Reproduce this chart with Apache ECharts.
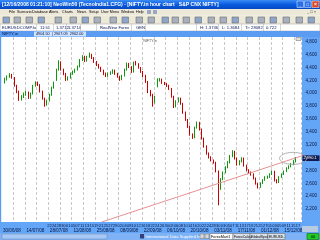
<!DOCTYPE html>
<html><head><meta charset="utf-8">
<script src="https://cdn.jsdelivr.net/npm/echarts@6/dist/echarts.min.js"></script>
<style>html,body{margin:0;padding:0;background:#fff;overflow:hidden}#c{width:320px;height:240px}</style>
</head><body><div id="c"></div>
<script>
// ---- data (NIFTY, Jun-Dec 2008) ----
const opens=[4170,4210,4255,4285,4240,4115,4025,3900,3945,3990,4010,3930,3990,4115,4160,4130,4025,3915,3820,3885,3975,4085,4200,4365,4485,4365,4300,4210,4240,4300,4330,4365,4410,4515,4565,4500,4565,4595,4550,4485,4440,4395,4350,4300,4270,4300,4315,4350,4300,4255,4210,4270,4365,4455,4410,4330,4470,4455,4395,4330,4270,4180,4025,3975,3855,4100,4210,4210,4160,4145,4115,4070,3945,3790,3870,3915,3840,3700,3590,3480,3360,3310,3465,3545,3435,3300,3175,3065,3005,2955,2925,2790,2510,2665,2770,2850,2925,3020,3095,2990,2895,2940,2990,2880,2805,2770,2740,2680,2600,2540,2600,2650,2695,2695,2740,2785,2650,2615,2695,2740,2785,2835,2865,2895,2940];
const closes=[4210,4255,4285,4240,4115,4025,3900,3945,3990,4010,3930,3990,4115,4160,4130,4025,3915,3820,3885,3975,4085,4160,4365,4485,4365,4300,4210,4240,4300,4330,4365,4410,4515,4565,4500,4565,4595,4550,4485,4440,4395,4350,4300,4270,4300,4315,4350,4300,4255,4210,4270,4365,4455,4410,4330,4470,4455,4395,4330,4270,4180,4025,3975,3855,3945,4210,4210,4160,4145,4115,4070,3945,3790,3870,3915,3840,3700,3590,3480,3360,3310,3465,3545,3435,3300,3175,3065,3005,2955,2925,2790,2510,2665,2770,2850,2925,3020,3095,2990,2895,2940,2990,2880,2805,2770,2740,2680,2600,2540,2600,2650,2695,2695,2740,2785,2650,2615,2695,2740,2785,2835,2865,2895,2940,2990];
const lows=[4150,4195,4240,4225,4100,4000,3880,3885,3925,3960,3910,3915,3980,4100,4110,4010,3900,3790,3805,3870,3960,4070,4190,4350,4350,4280,4190,4195,4225,4285,4315,4350,4400,4500,4485,4490,4550,4530,4470,4420,4380,4330,4280,4250,4255,4285,4300,4285,4240,4190,4200,4260,4350,4390,4315,4320,4430,4380,4315,4250,4160,4000,3950,3790,3840,4090,4180,4145,4125,4095,4050,3930,3770,3780,3855,3820,3680,3570,3460,3340,3290,3300,3450,3420,3280,3155,3045,2985,2940,2905,2770,2260,2500,2650,2755,2835,2910,3005,2970,2875,2880,2925,2860,2785,2750,2720,2660,2580,2520,2530,2590,2640,2670,2685,2730,2630,2600,2605,2685,2730,2775,2820,2850,2880,2925];
const highs=[4240,4275,4310,4300,4250,4130,4040,3970,4010,4040,4025,4010,4130,4185,4180,4140,4040,3930,3900,3990,4100,4180,4380,4510,4495,4380,4315,4260,4320,4350,4380,4430,4530,4590,4580,4580,4630,4610,4560,4500,4455,4410,4365,4320,4320,4340,4370,4365,4315,4270,4285,4380,4475,4470,4420,4490,4500,4465,4405,4345,4285,4190,4050,3990,3960,4230,4235,4225,4175,4160,4130,4080,3960,3890,3935,3930,3850,3715,3600,3495,3375,3480,3560,3555,3450,3310,3190,3080,3020,2970,2935,2800,2680,2785,2865,2945,3040,3115,3105,3000,2960,3005,3000,2890,2820,2785,2755,2690,2610,2615,2665,2710,2720,2755,2800,2795,2665,2710,2755,2800,2850,2880,2915,2960,3010];
const dateLabels=['30/06/08','14/07/08','28/07/08','11/08/08','25/08/08','08/09/08','22/09/08','06/10/08','20/10/08','03/11/08','17/11/08','01/12/08','15/12/08'];
const trendIdx=[41.3,128.6];
const trendVal=[2000,3050];
const lastPrice=2990.10;
const ellipseIdx=122.9, ellipseVal=2988;

// ---- categories: trading weekdays ----
const dates=[]; const dayNums=[];
let d=new Date(Date.UTC(2008,5,25));
while(dates.length<127){const wd=d.getUTCDay();
  if(wd>0&&wd<6){const dd=String(d.getUTCDate()).padStart(2,'0'),mm=String(d.getUTCMonth()+1).padStart(2,'0');
    dates.push(dd+'/'+mm+'/08'); dayNums.push(dd);}
  d=new Date(d.getTime()+86400000);}

const candles=dates.map((_,i)=>i<opens.length?[opens[i],closes[i],lows[i],highs[i]]:'-');
const F='Liberation Sans, Arial, sans-serif';
const chart=echarts.init(document.getElementById('c'),null,{renderer:'canvas'});
const gl=1,gr=18,gt=37,gb=18;
function fmtNum(v){return v.toLocaleString('en-US');}

chart.setOption({
  animation:false,
  backgroundColor:'#fff',
  grid:{left:gl,right:gr,top:gt,bottom:gb,show:true,backgroundColor:'#fff',borderWidth:0},
  xAxis:[
    {type:'category',data:dates,boundaryGap:true,axisLine:{show:false},axisTick:{show:false},
     axisLabel:{interval:(i,v)=>dateLabels.includes(v),fontSize:4.6,fontFamily:F,color:'#0a1640',margin:6},
     splitLine:{show:true,interval:(i)=>i%5===4,lineStyle:{color:'#c8c8c8',type:[3,2],width:1}}},
    {type:'category',data:dayNums,boundaryGap:true,position:'bottom',axisLine:{show:false},axisTick:{show:false},
     axisLabel:{interval:(i)=>i>=19&&i%2===1,fontSize:4,fontFamily:F,color:'#0a1640',margin:1.5},splitLine:{show:false}},
    {type:'value',min:-0.5,max:126.5,show:false}
  ],
  yAxis:{type:'value',position:'right',min:2000,max:4872,interval:200,scale:false,
    axisLine:{show:false},axisTick:{show:false},splitLine:{show:false},
    axisLabel:{fontSize:4.6,fontFamily:F,color:'#0a1640',margin:4,showMinLabel:false,showMaxLabel:false,formatter:fmtNum}},
  series:[
    {type:'candlestick',xAxisIndex:0,data:candles,barMaxWidth:1.6,
     itemStyle:{color:'#0a9a0a',color0:'#c80000',borderColor:'#0a9a0a',borderColor0:'#c80000',borderWidth:1}},
    {type:'line',xAxisIndex:2,data:[[trendIdx[0],trendVal[0]],[trendIdx[1],trendVal[1]]],symbol:'none',clip:false,
     lineStyle:{color:'#e89090',width:1},z:5}
  ]
});

// ---- window chrome (graphic elements) ----
const g=[];
function R(x,y,w,h,fill,z,stroke){g.push({type:'rect',shape:{x,y,width:w,height:h},style:{fill,stroke:stroke||null,lineWidth:stroke?0.6:0},z:z===undefined?-1:z,silent:true});}
function T(x,y,t,size,color,z,weight,align){g.push({type:'text',x,y,style:{text:t,fontSize:size,fontFamily:F,fill:color,fontWeight:weight||'normal',align:align||'left',verticalAlign:'middle'},z:z===undefined?10:z,silent:true});}
// title bar
g.push({type:'rect',shape:{x:0,y:0,width:320,height:9},style:{fill:new echarts.graphic.LinearGradient(0,0,0,1,[{offset:0,color:'#3a8cf5'},{offset:0.5,color:'#0a5ce0'},{offset:1,color:'#0548c0'}])},z:9,silent:true});
T(2,4.7,'[12/16/2008 01:21:10] NeoWin50 (TecnoIndia1.CFG) - [NIFTY.in hour chart   S&P CNX NIFTY]',5,'#fff',10,'bold');
R(297,1,6.5,6.5,'#2a6fe8',10,'#cfe0ff');R(304.5,1,6.5,6.5,'#2a6fe8',10,'#cfe0ff');R(312,1,7,6.5,'#d8472a',10,'#ffd8c8');
T(300.2,4.5,'_',4,'#fff',11,'bold','center');T(307.7,4.5,'□',4.5,'#fff',11,'bold','center');T(315.5,4.5,'×',5,'#fff',11,'bold','center');
// menu bar
R(0,9,320,6.5,'#ece9d8',9);
[['File',9],['Scenario',17],['Database',32],['Alerts',49],['Charts',62],['News',77],['Setup',89],['User Menu',101],['Window',121],['Help',136]].forEach(m=>T(m[1],12.3,m[0],3.7,'#000',10));
R(147,10,4,4,'#9aa8c0',10);R(153,10,4,4,'#9aa8c0',10);
T(307,12,'_ □ ×',4,'#333',10);
// toolbar
R(0,15.5,320,8.5,'#ece9d8',9);
[3,14,26,38,55,70,82,94,110,122,136,148,162,172,183,195,208,220,232,246,258,270,283,296,308].forEach((x,i)=>{R(x,17,6.5,6,i%3===0?'#8ea4c8':'#a9b0bb',10,'#6a707a');});
// quote row
R(0,24,320,7,'#ffffff',9,'#b0b0b0');
[['EURUSDCOMP.fx',2],['11:51',40],['1.3712',56],['1.3714',68],['RealNine Forex',100],['GEN',136]].forEach(q=>T(q[1],27.6,q[0],4.2,'#102060',10));
[['H: 1.3736',200],['L: 1.3684',222],['Tr: 28082',245],['0.722',266]].forEach(q=>T(q[1],27.6,q[0],4.2,'#102060',10));
[36,53,66,80,96,131,145,196,218,241,263,280].forEach(x=>R(x,24,0.5,7,'#b0b0b0',10));
// chart header bar
R(0,31,320,6,'#5b9cf2',9);
T(2,34,'NIFTY.in',4.2,'#001040',10);
R(34,31.5,52,5,'#cfe2ff',10);T(36,34,'4904.50  | 2907.09  2962.00',3.8,'#001040',11);
// plot area left strip and right axis panel
R(0,37,1.2,185,'#5b9cf2',9);
R(302,37,18,185,'#63a6f7',-1);
R(296,37.5,5,3,'#e0e0e0',10,'#808080');
T(150,40.5,'NIFTY.in',3.6,'#555',10,'normal','center');
// date axis panel
R(0,222,320,11,'#63a6f7',-1);
R(302,226,16,6,'#b9cbe3',-1);
// status bar
R(0,233,320,7,'#7fb2f4',9);
R(2,234,105,5,'#a8c8f5',10,'#6d8fc2');
R(140,234,4,4.5,'#30407a',10);
T(145.5,236.5,'International Data Supplied by Te',4.2,'#fff',10);
R(200,234,4,4.5,'#d8d8d8',10,'#808080');R(205,234,4,4.5,'#d8d8d8',10,'#808080');
R(210,233.5,23,6,'#ffffff',10,'#707070');T(211,236.6,'ForexMart1',3.8,'#000',11);
R(233,233.5,17,6,'#d8e0ea',10,'#707070');T(234,236.6,'ForexCalcul',3.4,'#000',11);
R(250,233.5,18,6,'#d8e0ea',10,'#707070');T(251,236.6,'GlobalSpot',3.4,'#000',11);
R(268,233.5,17,6,'#d8e0ea',10,'#707070');T(269,236.6,'EURUSD..',3.4,'#000',11);
R(307,233.5,12,6,'#22cc22',10,'#0a6a0a');T(313,236.6,'00',4,'#000',11,'normal','center');

// last price box & ellipse via scales
const py=chart.convertToPixel({yAxisIndex:0},lastPrice);
R(302.5,py-2.8,17,5.6,'#101a50',20);
T(303.5,py,fmtNum(lastPrice),4,'#fff',21);
const ec=chart.convertToPixel({xAxisIndex:2,yAxisIndex:0},[ellipseIdx,ellipseVal]);
g.push({type:'ellipse',shape:{cx:ec[0],cy:ec[1],rx:13.5,ry:6},style:{fill:null,stroke:'#a0a0a0',lineWidth:0.8},z:20,silent:true});
chart.setOption({graphic:{elements:g}});
</script></body></html>
